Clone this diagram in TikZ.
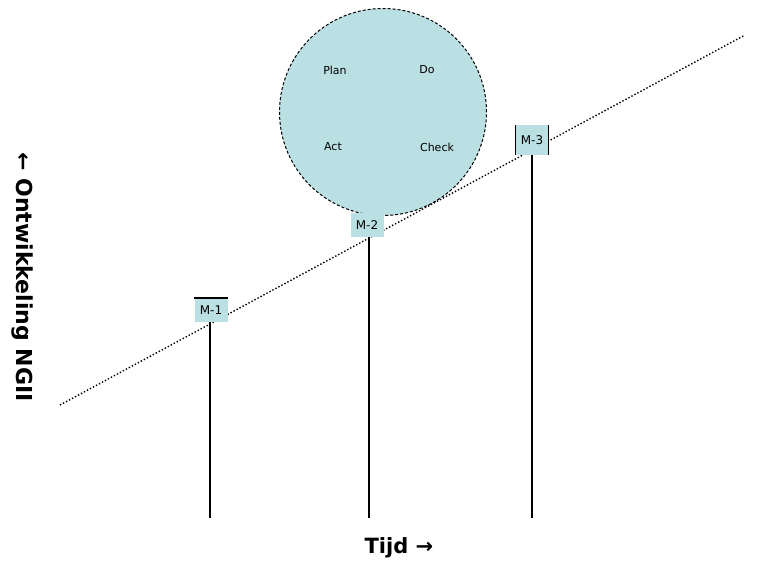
\documentclass[tikz,border=0pt]{standalone}
\usepackage{fontspec}
\setmainfont{DejaVu Sans}
\usetikzlibrary{calc}
\definecolor{pdcablue}{HTML}{BBE0E3}

\begin{document}
\begin{tikzpicture}[x=1pt,y=-1pt,
   mbox/.style={fill=pdcablue,inner sep=0pt,minimum width=33pt,minimum height=24pt,font=\fontsize{12}{13}\selectfont},
   pdca/.style={font=\fontsize{11}{12}\selectfont},
   axislabel/.style={font=\fontsize{21}{24}\selectfont\bfseries}]
   \useasboundingbox (0,0) rectangle (761,561);
   \node[circle,fill=pdcablue,draw,densely dashed,line width=1pt,minimum size=207pt,inner sep=0pt] (cycle) at (383,112) {};
   \node[pdca] (plan) at (335,70) {Plan};
   \node[pdca] (do) at (427,70) {Do};
   \node[pdca] (act) at (333,147) {Act};
   \node[pdca] (check) at (437,147) {Check};
   \draw[dotted,line width=1.4pt] (60,405)--(745,35);
   \node[mbox] (m1) at (211,310) {M-1};
   \node[mbox] (m2) at (367,225) {M-2};
   \node[mbox,minimum height=30pt] (m3) at (532,140) {M-3};
   \draw[line width=1.5pt] (m1.north west)--(m1.north east);
   \draw[line width=1.5pt] (m3.north west)--(m3.south west);
   \draw[line width=1.5pt] (m3.north east)--(m3.south east);
   \coordinate (t1) at (210,518);
   \coordinate (t2) at (369,518);
   \coordinate (t3) at (532,518);
   \draw[line width=1.5pt] (m1.south -| t1)--(t1);
   \draw[line width=1.5pt] (m2.south -| t2)--(t2);
   \draw[line width=1.5pt] (m3.south -| t3)--(t3);
   \node[axislabel] (tijd) at (399,548) {Tijd →};
   \node[axislabel,rotate=-90,font=\fontsize{22}{24}\selectfont\bfseries] (ontw) at (22,277) {← Ontwikkeling NGII};
 \end{tikzpicture}
\end{document}
